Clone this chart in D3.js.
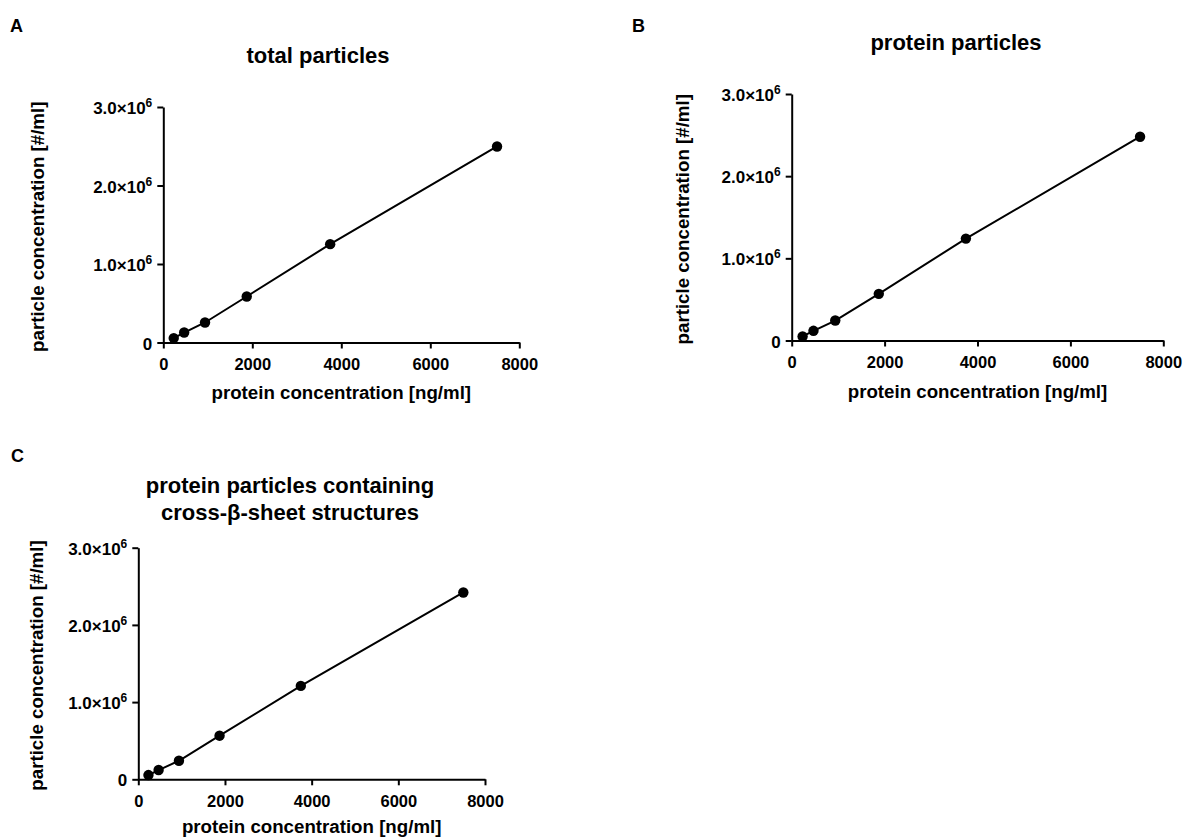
<!DOCTYPE html>
<html>
<head>
<meta charset="utf-8">
<script src="https://cdn.jsdelivr.net/npm/d3@7"></script>
<style>
  html, body { margin: 0; padding: 0; background: #fff; }
  svg text { font-family: "Liberation Sans", Arial, Helvetica, sans-serif; font-weight: bold; fill: #000; }
</style>
</head>
<body>
<svg id="chart" width="1186" height="838"></svg>
<script>
// ---- data ----
const concentrations = [234.375, 468.75, 937.5, 1875, 3750, 7500];           // ng/ml
const totalParticles = [0.056e6, 0.127e6, 0.255e6, 0.586e6, 1.253e6, 2.497e6];
const proteinParticles = [0.049e6, 0.118e6, 0.243e6, 0.568e6, 1.24e6, 2.48e6];
const crossBetaParticles = [0.055e6, 0.12e6, 0.24e6, 0.565e6, 1.21e6, 2.42e6];
const xTicks = [0, 2000, 4000, 6000, 8000];
const xTickLabels = ["0", "2000", "4000", "6000", "8000"];
const yTicks = [0, 1e6, 2e6, 3e6];
const yTickMantissa = ["0", "1.0×10", "2.0×10", "3.0×10"];
const yTickExponent = ["", "6", "6", "6"];
const panelLetters = ["A", "B", "C"];
const panelTitles = [["total particles"], ["protein particles"], ["protein particles containing", "cross-β-sheet structures"]];
const xAxisTitle = "protein concentration [ng/ml]";
const yAxisTitle = "particle concentration [#/ml]";

// ---- layout ----
const layout = [
  { values: totalParticles, x0: 163.3, x1: 519.3, y0: 342.5, y1: 107, titleX: 318, titleY: [63], letterX: 10, letterY: 32, yLabX: 44, xLabY: 399 },
  { values: proteinParticles, x0: 791.7, x1: 1163.3, y0: 340.5, y1: 94, titleX: 956, titleY: [50], letterX: 632, letterY: 32, yLabX: 689, xLabY: 398 },
  { values: crossBetaParticles, x0: 138.3, x1: 485, y0: 779.3, y1: 547.7, titleX: 290, titleY: [493, 520], letterX: 11, letterY: 462, yLabX: 43, xLabY: 833 }
];

const svg = d3.select("#chart");

layout.forEach((p, i) => {
  const g = svg.append("g");
  const x = d3.scaleLinear().domain([0, 8000]).range([p.x0, p.x1]);
  const y = d3.scaleLinear().domain([0, 3e6]).range([p.y0, p.y1]);

  // panel letter
  g.append("text").attr("x", p.letterX).attr("y", p.letterY)
    .style("font-size", "18px").text(panelLetters[i]);

  // title
  panelTitles[i].forEach((t, k) => {
    g.append("text").attr("x", p.titleX).attr("y", p.titleY[k])
      .attr("text-anchor", "middle").style("font-size", "22px").text(t);
  });

  // x axis
  const xAxis = d3.axisBottom(x).tickValues(xTicks).tickSize(6).tickSizeOuter(0)
    .tickFormat((d, j) => xTickLabels[j]);
  const gx = g.append("g").attr("transform", `translate(0,${p.y0})`).call(xAxis);
  gx.select(".domain").attr("stroke", "#000").attr("stroke-width", 2);
  gx.selectAll(".tick line").attr("stroke", "#000").attr("stroke-width", 2);
  gx.selectAll(".tick text").attr("y", 27.5).attr("dy", null)
    .style("font-size", "16.5px").style("font-family", '"Liberation Sans", Arial, sans-serif').style("font-weight", "bold");

  // y axis
  const yAxis = d3.axisLeft(y).tickValues(yTicks).tickSize(6).tickSizeOuter(0).tickFormat(() => "");
  const gy = g.append("g").attr("transform", `translate(${p.x0},0)`).call(yAxis);
  gy.select(".domain").attr("stroke", "#000").attr("stroke-width", 2);
  gy.selectAll(".tick line").attr("stroke", "#000").attr("stroke-width", 2);
  gy.selectAll(".tick").each(function (d, j) {
    const t = d3.select(this).append("text")
      .attr("x", -11).attr("y", 6.5).attr("text-anchor", "end")
      .style("font-size", "17px");
    t.append("tspan").text(yTickMantissa[j]);
    if (yTickExponent[j]) {
      t.append("tspan").attr("dy", -7).style("font-size", "12px").text(yTickExponent[j]);
    }
  });

  // axis titles
  g.append("text").attr("x", (p.x0 + p.x1) / 2).attr("y", p.xLabY)
    .attr("text-anchor", "middle").style("font-size", "18.7px").text(xAxisTitle);
  g.append("text")
    .attr("transform", `translate(${p.yLabX},${(p.y0 + p.y1) / 2 + 2}) rotate(-90)`)
    .attr("text-anchor", "middle").style("font-size", "18.7px").text(yAxisTitle);

  // line + points
  const pts = concentrations.map((c, k) => [c, p.values[k]]);
  const line = d3.line().x(d => x(d[0])).y(d => y(d[1]));
  g.append("path").datum(pts).attr("d", line)
    .attr("fill", "none").attr("stroke", "#000").attr("stroke-width", 2);
  g.selectAll("circle.pt").data(pts).enter().append("circle")
    .attr("class", "pt").attr("cx", d => x(d[0])).attr("cy", d => y(d[1]))
    .attr("r", 5.2).attr("fill", "#000");
});
</script>
</body>
</html>
